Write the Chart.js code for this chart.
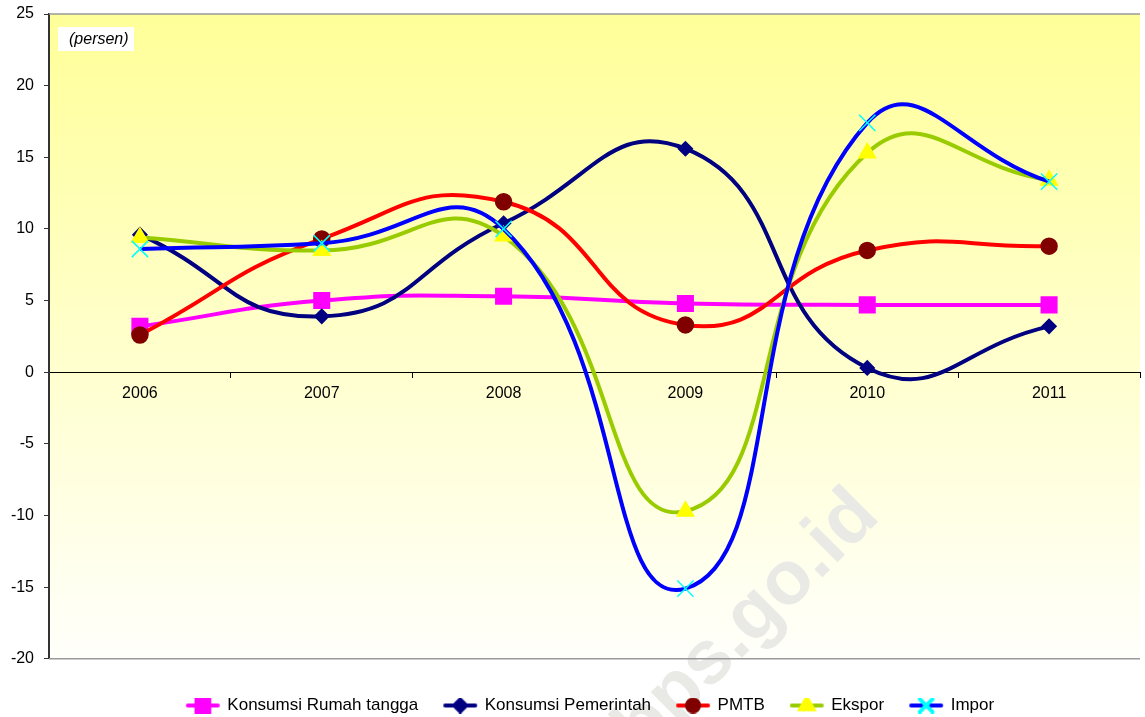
<!DOCTYPE html>
<html>
<head>
<meta charset="utf-8">
<script src="https://cdn.jsdelivr.net/npm/chart.js@4.4.0/dist/chart.umd.min.js"></script>
<style>
  html, body { margin: 0; padding: 0; background: #fff; overflow: hidden; }
  #wrap { width: 1145px; height: 717px; overflow: hidden; }
</style>
</head>
<body>
<div id="wrap"><canvas id="chart" width="1153" height="724"></canvas></div>
<script>
// data (persen)
const years = ['2006', '2007', '2008', '2009', '2010', '2011'];
const rumahTangga = [3.2, 5.0, 5.3, 4.8, 4.7, 4.7];
const pemerintah = [9.6, 3.9, 10.4, 15.6, 0.3, 3.2];
const pmtb = [2.6, 9.3, 11.9, 3.3, 8.5, 8.8];
const ekspor = [9.4, 8.5, 9.5, -9.7, 15.3, 13.4];
const impor = [8.6, 9.0, 10.0, -15.1, 17.4, 13.3];

const FONT = "'Liberation Sans', Arial, sans-serif";

// little line + marker picture for the legend
function legendSample(lineColor, style, fill, stroke, radius) {
    const c = document.createElement('canvas');
    c.width = 36;
    c.height = 16;
    const ctx = c.getContext('2d');
    ctx.strokeStyle = lineColor;
    ctx.lineWidth = 4;
    ctx.lineCap = 'round';
    ctx.beginPath();
    ctx.moveTo(3, 8);
    ctx.lineTo(33, 8);
    ctx.stroke();
    ctx.fillStyle = fill;
    ctx.strokeStyle = stroke;
    if (Chart.helpers && Chart.helpers.drawPoint) {
        Chart.helpers.drawPoint(ctx, { pointStyle: style, radius: radius, borderWidth: 1.5 }, 18, 8);
    } else {
        ctx.beginPath();
        ctx.arc(18, 8, radius * 0.8, 0, Math.PI * 2);
        ctx.fill();
    }
    return c;
}

const series = [
    { label: 'Konsumsi Rumah tangga', data: rumahTangga, line: '#ff00ff', style: 'rect', fill: '#ff00ff', stroke: '#ff00ff', r: 11, lr: 9 },
    { label: 'Konsumsi Pemerintah', data: pemerintah, line: '#000080', style: 'rectRot', fill: '#000080', stroke: '#000080', r: 7, lr: 6 },
    { label: 'PMTB', data: pmtb, line: '#ff0000', style: 'circle', fill: '#800000', stroke: '#800000', r: 8, lr: 6 },
    { label: 'Ekspor', data: ekspor, line: '#99cc00', style: 'triangle', fill: '#ffff00', stroke: '#ffff00', r: 9.5, lr: 7.5 },
    { label: 'Impor', data: impor, line: '#0000ff', style: 'crossRot', fill: '#00ffff', stroke: '#00ffff', r: 11.5, lr: 9 }
];

const datasets = series.map((s, i) => ({
    label: s.label,
    data: s.data,
    borderColor: s.line,
    borderWidth: 4,
    tension: 0.5,
    fill: false,
    pointStyle: s.style,
    pointRadius: s.r,
    pointHoverRadius: s.r,
    pointBackgroundColor: s.fill,
    pointBorderColor: s.stroke,
    pointBorderWidth: 1.5,
    order: series.length - i
}));

// plot area decoration: gradient, watermark, note, borders
const decor = {
    id: 'decor',
    afterLayout(chart) {
        // legend sits a little right of the centre in the original
        chart.legend.left += 14;
        chart.legend.right += 14;
    },
    beforeDraw(chart) {
        const { ctx, chartArea: a } = chart;
        const w = a.right - a.left;
        ctx.save();
        const g = ctx.createLinearGradient(0, a.top, 0, a.bottom);
        g.addColorStop(0, '#ffff99');
        g.addColorStop(1, '#fffffb');
        ctx.fillStyle = g;
        ctx.fillRect(a.left, a.top, w, a.bottom - a.top);

        ctx.translate(a.left + w * 0.64, a.bottom - 36);
        ctx.rotate(-Math.PI / 4);
        ctx.font = 'bold 76px ' + FONT;
        ctx.fillStyle = '#e9e9e6';
        ctx.textAlign = 'center';
        ctx.textBaseline = 'middle';
        ctx.fillText('bps.go.id', 0, 0);
        ctx.restore();
    },
    beforeDatasetsDraw(chart) {
        const { ctx, chartArea: a } = chart;
        ctx.save();
        ctx.strokeStyle = '#999';
        ctx.lineWidth = 1.5;
        ctx.beginPath();
        ctx.moveTo(a.left, a.top);
        ctx.lineTo(a.right, a.top);
        ctx.moveTo(a.left, a.bottom);
        ctx.lineTo(a.right, a.bottom);
        ctx.stroke();

        ctx.fillStyle = '#fff';
        ctx.fillRect(a.left + 9, a.top + 13, 76, 24);
        ctx.fillStyle = '#000';
        ctx.font = 'italic 16px ' + FONT;
        ctx.textBaseline = 'middle';
        ctx.fillText('(persen)', a.left + 20, a.top + 26);
        ctx.restore();
    }
};

new Chart(document.getElementById('chart'), {
    type: 'line',
    data: { labels: years, datasets: datasets },
    plugins: [decor],
    options: {
        responsive: false,
        animation: false,
        layout: { padding: { left: 0, top: 14, right: 0, bottom: 0 } },
        scales: {
            x: {
                position: { y: 0 },
                offset: true,
                afterFit(scale) { scale.paddingLeft = 0; scale.paddingRight = 0; scale.paddingTop = 0; scale.paddingBottom = 0; },
                grid: { display: true, drawOnChartArea: false, drawTicks: true, tickLength: 5, color: '#000', offset: true },
                border: { display: true, color: '#000', width: 1 },
                ticks: { color: '#000', font: { family: FONT, size: 16 }, padding: 7 }
            },
            y: {
                min: -20,
                max: 25,
                afterFit(scale) { scale.width = 49; scale.paddingTop = 0; scale.paddingBottom = 0; },
                grid: { display: true, drawOnChartArea: false, drawTicks: true, tickLength: 5, color: '#333' },
                border: { display: true, color: '#333', width: 2 },
                ticks: { stepSize: 5, color: '#000', font: { family: FONT, size: 16 }, padding: 10 }
            }
        },
        plugins: {
            tooltip: { enabled: false },
            legend: {
                position: 'bottom',
                title: { display: true, text: '', font: { size: 1 }, padding: { top: 11, bottom: 0 } },
                labels: {
                    usePointStyle: true,
                    pointStyleWidth: 32,
                    padding: 26,
                    color: '#000',
                    font: { family: FONT, size: 17 },
                    generateLabels(chart) {
                        return series.map((s, i) => ({
                            text: s.label,
                            datasetIndex: i,
                            pointStyle: legendSample(s.line, s.style, s.fill, s.stroke, s.lr),
                            fillStyle: s.fill,
                            strokeStyle: s.line,
                            fontColor: '#000',
                            hidden: false,
                            lineWidth: 0
                        }));
                    }
                }
            }
        }
    }
});
</script>
</body>
</html>
